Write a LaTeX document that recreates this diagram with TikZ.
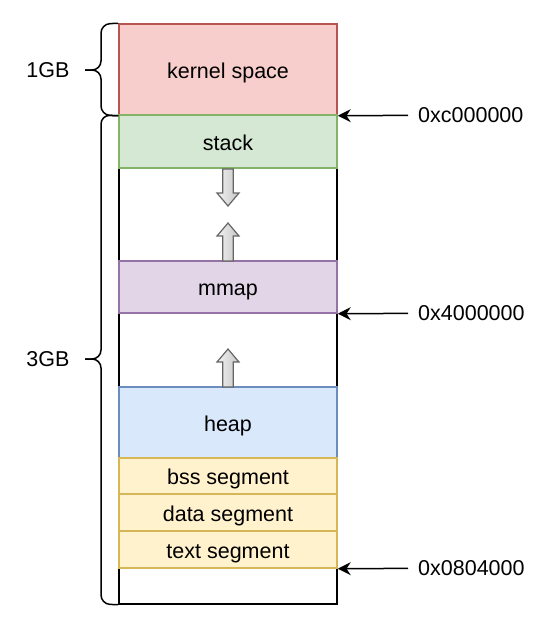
\documentclass[tikz,border=0pt]{standalone}
\usepackage{fontspec}
\setmainfont{Liberation Sans}
\usetikzlibrary{arrows.meta,positioning}

\definecolor{kfill}{HTML}{F8CECC}\definecolor{kline}{HTML}{B85450}
\definecolor{sfill}{HTML}{D5E8D4}\definecolor{sline}{HTML}{82B366}
\definecolor{mfill}{HTML}{E1D5E7}\definecolor{mline}{HTML}{9673A6}
\definecolor{hfill}{HTML}{DAE8FC}\definecolor{hline}{HTML}{6C8EBF}
\definecolor{gfill}{HTML}{FFF2CC}\definecolor{gline}{HTML}{D6B656}

\tikzset{
  region/.style={draw, line width=1.5pt, minimum width=218pt, inner sep=0pt,
    text height=17pt, text depth=0pt},
  addr/.style={anchor=west, inner sep=10pt},
  ptr/.style={-{Stealth[length=13pt,width=13pt]}, line width=1.5pt},
  brace/.style={line width=1.5pt, rounded corners=9pt},
  growarrow/.style={draw=black!60, line width=1.2pt, left color=gray!10, right color=gray!45}
}

\begin{document}
\begin{tikzpicture}[x=1pt, y=-1pt, font=\fontsize{21.5}{25}\selectfont]
    \useasboundingbox (0,0) rectangle (560,630);

    % Whole address space
    \node[region, minimum height=580pt] (space) at (228,314) {};

    % Memory regions
    \node[region, draw=kline, fill=kfill, minimum height=91pt] (kernel) at (228,69.5) {kernel space};
    \node[region, draw=sline, fill=sfill, minimum height=53pt] (stack) at (228,141.5) {stack};
    \node[region, draw=mline, fill=mfill, minimum height=52pt] (mmap) at (228,287) {mmap};
    \node[region, draw=hline, fill=hfill, minimum height=71pt] (heap) at (228,422.5) {heap};
    \node[region, draw=gline, fill=gfill, minimum height=36pt] (bss) at (228,476) {bss segment};
    \node[region, draw=gline, fill=gfill, minimum height=37pt] (data) at (228,512.5) {data segment};
    \node[region, draw=gline, fill=gfill, minimum height=37pt] (text) at (228,549.5) {text segment};

    % Growth directions
    \draw[growarrow] (222.7,169) -- (233.3,169) -- (233.3,193) -- (239,193) -- (228,206)
        -- (217,193) -- (222.7,193) -- cycle;
    \foreach \tip/\bot in {223/261, 349/387}
        \draw[growarrow] (228,\tip) -- (239,\tip+13) -- (233.3,\tip+13) -- (233.3,\bot)
            -- (222.7,\bot) -- (222.7,\tip+13) -- (217,\tip+13) -- cycle;

    % Addresses
    \node[addr] (addrK) at (408,115) {0xc000000};
    \node[addr] (addrM) at (408,313) {0x4000000};
    \node[addr] (addrT) at (408,568) {0x0804000};
    \draw[ptr] (addrK) -- (kernel.south east);
    \draw[ptr] (addrM) -- (mmap.south east);
    \draw[ptr] (addrT) -- (text.south east);

    % Braces
    \coordinate (tipK) at (85,70);
    \coordinate (tipU) at (85,359);
    \draw[brace] (kernel.north west) -- (101,24) -- (101,70) -- (tipK);
    \draw[brace] (kernel.south west) -- (101,115) -- (101,70) -- (tipK);
    \draw[brace] (kernel.south west) -- (101,115) -- (101,359) -- (tipU);
    \draw[brace] (space.south west) -- (101,604) -- (101,359) -- (tipU);
    \node[left=12pt of tipK] (oneGB) {1GB};
    \node[left=12pt of tipU] (threeGB) {3GB};
\end{tikzpicture}
\end{document}
